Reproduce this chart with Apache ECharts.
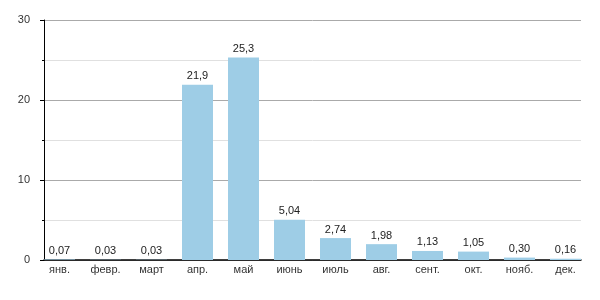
<!DOCTYPE html>
<html><head><meta charset="utf-8">
<script src="https://cdn.jsdelivr.net/npm/echarts@6/dist/echarts.min.js"></script>
<style>html,body{margin:0;padding:0;background:#fff}#c{width:600px;height:300px}</style>
</head><body><div id="c"></div>
<script>
const months = ['янв.','февр.','март','апр.','май','июнь','июль','авг.','сент.','окт.','нояб.','дек.'];
const values = [0.07,0.03,0.03,21.9,25.3,5.04,2.74,1.98,1.13,1.05,0.30,0.16];
const yTicks = [0,10,20,30];

function fmt(v){ return (v>=10 ? v.toFixed(1) : v.toFixed(2)).replace('.',','); }

const font = 'Liberation Sans, Arial, sans-serif';
const chart = echarts.init(document.getElementById('c'), null, {renderer:'canvas'});
chart.setOption({
  animation:false,
  grid:[
    {left:44, right:19, top:20, bottom:40},
    {left:36.5, right:11.5, top:20, bottom:40}
  ],
  xAxis:[
    {gridIndex:0, type:'category', data:months, axisLine:{lineStyle:{color:'#000', width:1.5}},
     axisTick:{show:false}, axisLabel:{show:false}},
    {gridIndex:1, type:'category', data:months, axisLine:{show:false}, axisTick:{show:false},
     axisLabel:{color:'#333', fontSize:11, fontFamily:font, margin:4}}
  ],
  yAxis:[
    {gridIndex:0, type:'value', min:yTicks[0], max:yTicks[yTicks.length-1], interval:10,
     axisLine:{show:true, lineStyle:{color:'#000', width:1}},
     axisTick:{show:true, length:4, lineStyle:{color:'#000'}},
     minorTick:{show:true, splitNumber:2, length:2, lineStyle:{color:'#000'}},
     splitLine:{show:true, lineStyle:{color:'#aaa', width:1}},
     minorSplitLine:{show:true, lineStyle:{color:'#e0e0e0', width:1}},
     axisLabel:{color:'#333', fontSize:11, fontFamily:font, margin:14}},
    {gridIndex:1, type:'value', min:yTicks[0], max:yTicks[yTicks.length-1], show:false, splitLine:{show:false}}
  ],
  series:[{
    type:'bar', xAxisIndex:1, yAxisIndex:1, data:values, barWidth:31,
    itemStyle:{color:'#9ecde6'},
    label:{show:true, position:'top', distance:3, color:'#222', fontSize:11, fontFamily:font,
      formatter:p=>fmt(p.value)}
  }]
});
</script></body></html>
